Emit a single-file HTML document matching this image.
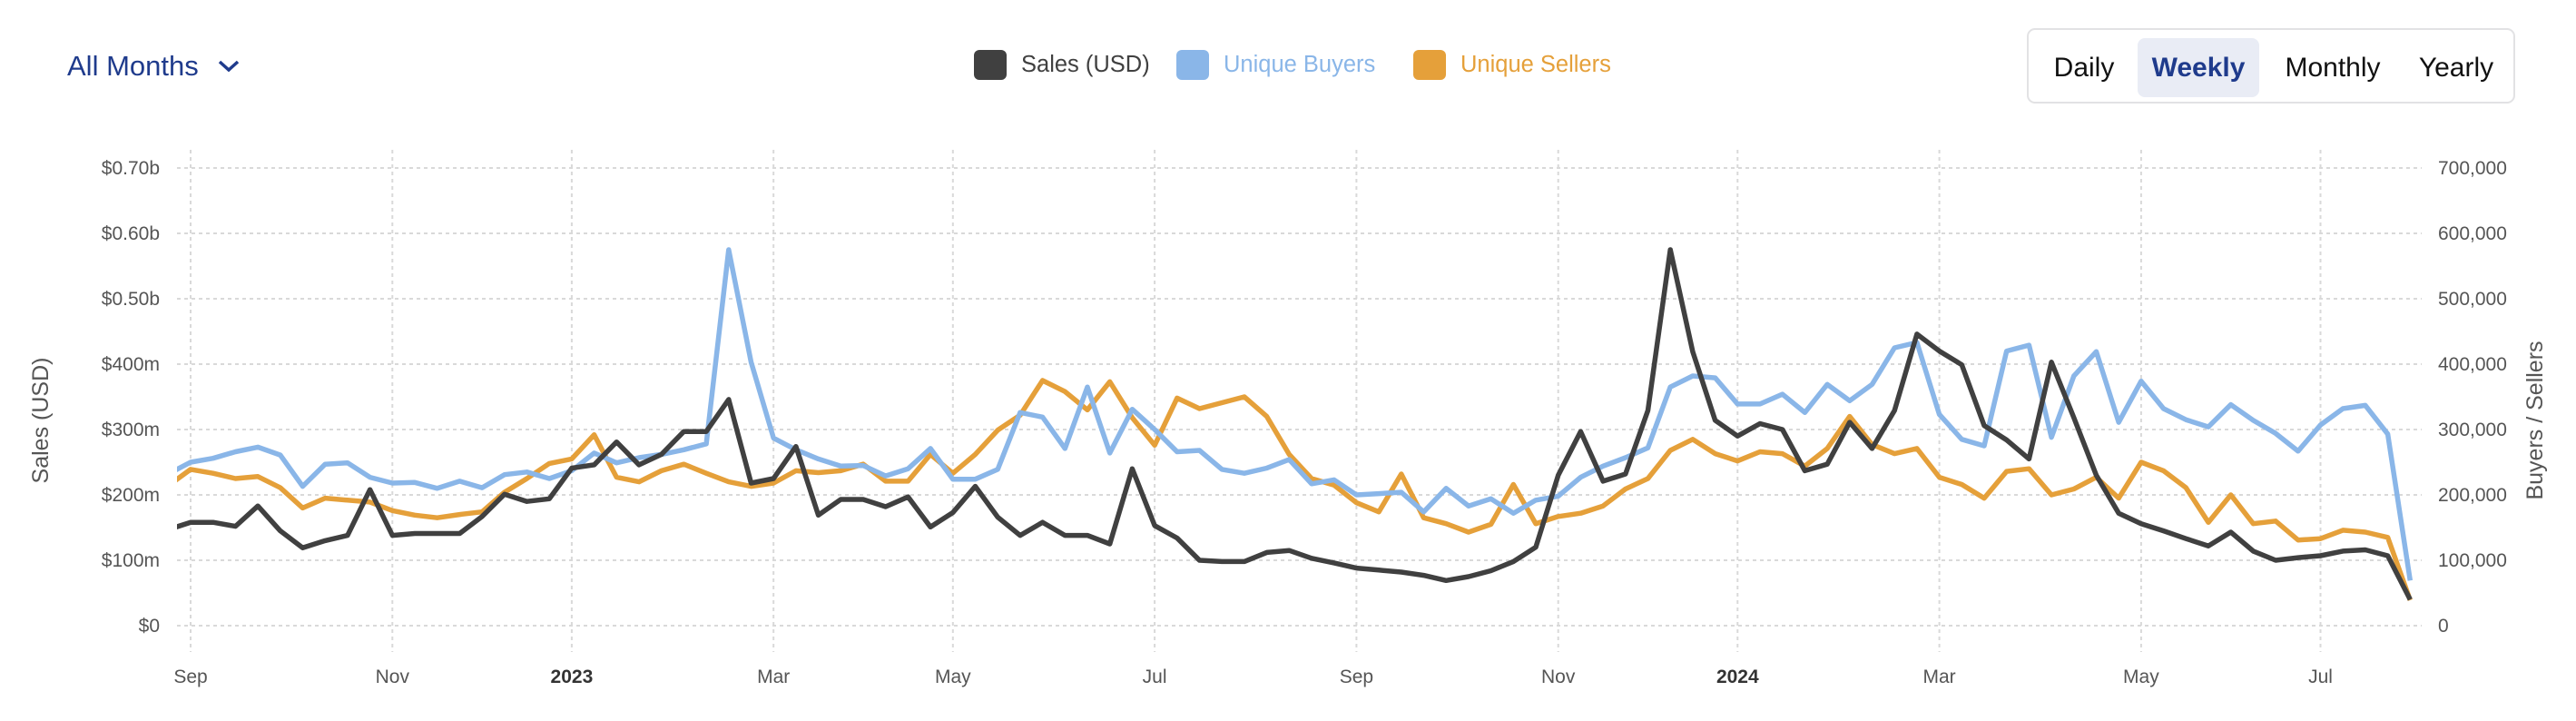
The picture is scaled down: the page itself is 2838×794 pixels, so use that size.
<!DOCTYPE html>
<html><head><meta charset="utf-8"><style>
html,body{margin:0;padding:0;background:#fff;width:2838px;height:794px;overflow:hidden;font-family:"Liberation Sans",sans-serif}
#wrap{position:relative;width:2838px;height:794px}
.months{position:absolute;left:74px;top:55px;font-size:31px;color:#1f3b8c;display:flex;align-items:center}
.seg{position:absolute;left:2233px;top:31px;width:538px;height:83px;border:2px solid #e2e2e4;border-radius:9px;box-sizing:border-box}
.btn{position:absolute;top:9px;height:65px;line-height:65px;font-size:30px;color:#111;text-align:center;border-radius:8px}
.legend{position:absolute;top:54px;height:34px;display:flex;align-items:center;font-size:25.5px}
.sw{width:36px;height:33px;border-radius:6px;margin-right:16px}
</style></head><body><div id="wrap">
<div class="months">All Months<svg width="26" height="16" style="margin-left:20px"><path d="M3 3 L13 12 L23 3" stroke="#1f3b8c" stroke-width="3.5" fill="none"/></svg></div>
<div class="legend" style="left:1073px"><div class="sw" style="background:#404040"></div><span style="color:#404040">Sales (USD)</span></div>
<div class="legend" style="left:1296px"><div class="sw" style="background:#8ab6e8"></div><span style="color:#8ab6e8">Unique Buyers</span></div>
<div class="legend" style="left:1557px"><div class="sw" style="background:#e5a03a"></div><span style="color:#e5a03a">Unique Sellers</span></div>
<div class="seg">
<div class="btn" style="left:16px;width:90px">Daily</div>
<div class="btn" style="left:120px;width:134px;background:#e9ecf5;color:#1f3b8c;font-weight:bold">Weekly</div>
<div class="btn" style="left:270px;width:130px">Monthly</div>
<div class="btn" style="left:416px;width:110px">Yearly</div>
</div>
<svg id="chart" width="2838" height="794" style="position:absolute;left:0;top:0"></svg>
</div>
<script>
const sales=[147,158,158,152,183,145,119,130,138,208,138,141,141,141,167,201,190,194,241,246,281,246,262,297,297,346,218,225,274,169,193,193,182,197,151,173,213,166,138,158,138,138,125,240,153,134,100,98,98,112,115,103,96,88,85,82,77,69,75,84,98,120,230,297,221,232,329,575,419,314,290,309,300,237,247,311,271,329,446,420,399,306,284,255,403,318,230,172,156,145,133,122,143,114,100,104,107,114,116,107,40];
const buyers=[232,250,256,266,273,261,213,247,249,227,218,219,210,221,211,231,235,225,237,264,249,257,262,269,278,575,403,287,269,255,244,245,229,240,271,224,224,239,326,319,271,365,264,331,300,266,268,239,233,241,254,217,223,200,202,204,174,210,183,194,172,192,198,227,244,257,272,365,382,379,339,339,354,326,369,344,369,425,433,323,285,275,420,429,288,382,419,311,374,332,315,304,338,314,294,267,307,332,337,293,69];
const sellers=[214,239,233,225,228,211,180,195,192,189,176,169,165,170,174,204,225,248,255,292,227,220,237,247,233,220,213,218,237,234,237,247,221,221,262,233,262,299,322,375,358,330,373,318,276,348,332,341,350,320,262,225,215,188,174,232,165,156,143,155,216,156,167,172,183,209,225,268,285,263,252,266,263,244,271,320,277,263,271,227,216,195,236,240,200,209,227,195,250,237,211,158,200,156,160,131,133,146,143,135,39];
const startIndex=-1;
const tickIdx=[0,9,17,26,34,43,52,61,69,78,87,95];
const tickLabels=["Sep","Nov","2023","Mar","May","Jul","Sep","Nov","2024","Mar","May","Jul"];
const leftTicks=["$0","$100m","$200m","$300m","$400m","$0.50b","$0.60b","$0.70b"];
const rightTicks=["0","100,000","200,000","300,000","400,000","500,000","600,000","700,000"];
const yTickVals=[0,100,200,300,400,500,600,700];

const NS="http://www.w3.org/2000/svg";
const svg=document.getElementById('chart');
const X0=195,X1=2668;
function x(i){return 210+24.7*i;}
function y(v){return 689-v*0.72;}
function mk(tag,attrs,parent){const e=document.createElementNS(NS,tag);for(const k in attrs)e.setAttribute(k,attrs[k]);(parent||svg).appendChild(e);return e;}
const defs=mk('defs',{});
const cp=mk('clipPath',{id:'clip'},defs);
mk('rect',{x:X0,y:100,width:X1-X0,height:620},cp);

yTickVals.forEach((v,k)=>{
  const g=mk('line',{x1:X0,x2:X1,y1:y(v),y2:y(v),stroke:'#d9d9d9','stroke-width':2,'stroke-dasharray':'4 4'});
  
  
  const l=mk('text',{x:176,y:y(v)+7,'text-anchor':'end','font-size':21,fill:'#555'});
  l.textContent=leftTicks[k];
  
  
  const r=mk('text',{x:2686,y:y(v)+7,'font-size':21,fill:'#555'});
  r.textContent=rightTicks[k];
  
  
});
tickIdx.forEach((t,k)=>{
  const g=mk('line',{x1:x(t),x2:x(t),y1:165,y2:718,stroke:'#d9d9d9','stroke-width':2,'stroke-dasharray':'4 4'});
  
  
  const bold=/^\d{4}$/.test(tickLabels[k]);
  const l=mk('text',{x:x(t),y:752,'text-anchor':'middle','font-size':21,fill:bold?'#333':'#555','font-weight':bold?'bold':'normal'});
  l.textContent=tickLabels[k];
  
  
});
const t1=mk('text',{transform:'translate(53,463) rotate(-90)','text-anchor':'middle','font-size':25,fill:'#555'});
t1.textContent='Sales (USD)';


const t2=mk('text',{transform:'translate(2801,463) rotate(-90)','text-anchor':'middle','font-size':25,fill:'#555'});
t2.textContent='Buyers / Sellers';



function line(arr,color,name){
  const d=arr.map((v,k)=>(k?'L':'M')+x(k+startIndex).toFixed(1)+' '+y(v).toFixed(1)).join(' ');
  const p=mk('path',{d:d,fill:'none',stroke:color,'stroke-width':5.5,'stroke-linejoin':'round','clip-path':'url(#clip)'});
  
  
}
line(sellers,'#e5a03a','sellers-line');
line(buyers,'#8ab6e8','buyers-line');
line(sales,'#404040','sales-line');
</script></body></html>
